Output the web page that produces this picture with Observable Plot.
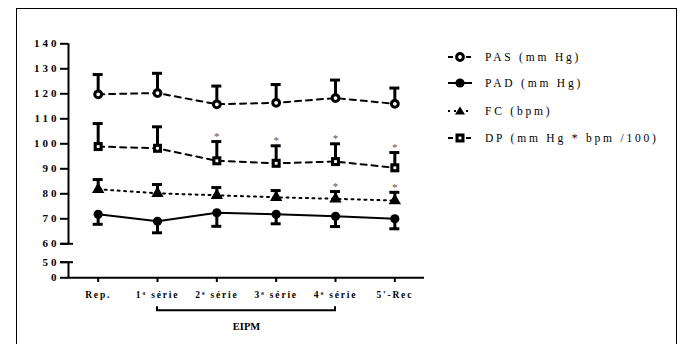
<!DOCTYPE html>
<html>
<head>
<meta charset="utf-8">
<script src="https://cdn.jsdelivr.net/npm/d3@7"></script>
<script src="https://cdn.jsdelivr.net/npm/@observablehq/plot@0.6"></script>
<style>
  html, body { margin: 0; padding: 0; background: #fff; }
  #wrap { position: relative; width: 684px; height: 344px; overflow: hidden; }
  #frame { position: absolute; left: 16px; top: 8px; width: 661px; height: 400px; border: 1px solid #000; box-sizing: border-box; }
  #chart { position: absolute; left: 0; top: 0; }
  #legend { position: absolute; left: 446px; top: 0; font-family: "Liberation Serif", serif; font-size: 11.5px; letter-spacing: 2.8px; color: #000; }
  .row { position: absolute; left: 0; height: 16px; display: flex; align-items: center; white-space: nowrap; }
  .row svg { width: 28px; height: 16px; margin-right: 11px; overflow: visible; }
  svg [aria-label="y-axis tick label"] text { letter-spacing: 3px; }
  svg [aria-label="x-axis tick label"] text { letter-spacing: 1.8px; }
</style>
</head>
<body>
<div id="wrap">
  <div id="frame"></div>
  <div id="chart"></div>
  <div id="legend"></div>
</div>
<script>
// ---- data ----
const categories = ["Rep.", "1ª série", "2ª série", "3ª série", "4ª série", "5'-Rec"];
const pas    = [119.8, 120.3, 115.8, 116.4, 118.3, 116.0];
const pasTop = [127.7, 128.2, 123.1, 123.7, 125.5, 122.3];
const pad    = [71.8, 69.0, 72.4, 71.8, 71.0, 70.0];
const padBot = [67.8, 64.4, 67.0, 68.0, 66.9, 66.0];
const fc     = [81.8, 80.2, 79.4, 78.6, 78.0, 77.3];
const fcTop  = [85.7, 83.7, 82.5, 81.3, 80.9, 80.6];
const dp     = [98.9, 98.2, 93.2, 92.2, 92.9, 90.4];
const dpTop  = [108.1, 106.8, 100.9, 99.2, 100.0, 96.5];
const dpSig  = [false, false, true, true, true, true];
const fcSig  = [false, false, false, false, true, true];
const yTicks = [0, 50, 60, 70, 80, 90, 100, 110, 120, 130, 140];
const bracketFrom = "1ª série", bracketTo = "4ª série", bracketLabel = "EIPM";
const legendLabels = ["PAS (mm Hg)", "PAD (mm Hg)", "FC (bpm)", "DP (mm Hg * bpm /100)"];

// ---- build rows ----
const rows = (vals, ends) => categories.map((c, i) => ({i, v: vals[i], e: ends[i]}));
const PAS = rows(pas, pasTop), PAD = rows(pad, padBot), FC = rows(fc, fcTop), DP = rows(dp, dpTop);
const stars = [
  ...DP.filter((d, i) => dpSig[i]),
  ...FC.filter((d, i) => fcSig[i])
];

const serif = "Liberation Serif, Times New Roman, serif";
const black = "#000";

function errorBars(data) {
  return [
    Plot.ruleX(data, {x: "i", y1: "v", y2: "e", stroke: black, strokeWidth: 3}),
    Plot.ruleY(data, {x1: "i", x2: "i", y: "e", stroke: black, strokeWidth: 3, insetLeft: -5, insetRight: -5})
  ];
}

const ia = categories.indexOf(bracketFrom), ib = categories.indexOf(bracketTo);

const chart = Plot.plot({
  width: 684,
  height: 344,
  marginLeft: 68,
  marginRight: 260,
  marginTop: 43,
  marginBottom: 67,
  style: {fontFamily: serif, fontWeight: "bold", fontSize: "10px", background: "transparent", overflow: "visible"},
  x: {type: "linear", domain: [-0.5, categories.length - 0.5], axis: null, label: null},
  y: {type: "linear", domain: [0, 50, 60, 140], range: [277.3, 261.7, 243.3, 43.3], axis: null, label: null},
  marks: [
    // broken y axis line
    Plot.ruleX([{y1: 60, y2: 140}, {y1: 0, y2: 50}], {x: () => -0.5, y1: "y1", y2: "y2", stroke: black, strokeWidth: 2}),
    Plot.ruleY([50, 60], {x1: () => -0.5, x2: () => -0.5, y: d => d, stroke: black, strokeWidth: 2, insetLeft: -8, insetRight: -5}),
    Plot.axisY(yTicks, {anchor: "left", label: null, tickSize: 8, tickPadding: 1, strokeWidth: 2, fontSize: 11, fontWeight: "bold", fontFamily: serif}),
    // x axis
    Plot.ruleY([0], {stroke: black, strokeWidth: 2}),
    Plot.axisX(d3.range(categories.length), {anchor: "bottom", label: null, tickSize: 5, tickPadding: 9, strokeWidth: 2, tickFormat: i => categories[i], fontSize: 9.5, fontWeight: "bold", fontFamily: serif}),
    // bracket
    (index, scales) => {
      const g = d3.create("svg:g");
      const yy = scales.y(0) + 33;
      g.append("path")
        .attr("d", `M${scales.x(ia)},${yy - 4}V${yy}H${scales.x(ib)}V${yy - 4}`)
        .attr("fill", "none").attr("stroke", black).attr("stroke-width", 2);
      return g.node();
    },
    Plot.text([bracketLabel], {x: () => (ia + ib) / 2, y: () => 0, dy: 49, text: d => d, fontSize: 10.5, fontWeight: "bold", fontFamily: serif, fill: black, style: "letter-spacing:1.5px"}),
    // error bars
    ...errorBars(PAS), ...errorBars(PAD), ...errorBars(FC), ...errorBars(DP),
    // lines
    Plot.line(PAS, {x: "i", y: "v", stroke: black, strokeWidth: 2, strokeDasharray: "6,5"}),
    Plot.line(DP, {x: "i", y: "v", stroke: black, strokeWidth: 2, strokeDasharray: "6,5"}),
    Plot.line(FC, {x: "i", y: "v", stroke: black, strokeWidth: 2, strokeDasharray: "2,4.5"}),
    Plot.line(PAD, {x: "i", y: "v", stroke: black, strokeWidth: 2}),
    // markers
    Plot.dot(PAS, {x: "i", y: "v", r: 3.4, fill: "#fff", stroke: black, strokeWidth: 3}),
    Plot.dot(PAD, {x: "i", y: "v", r: 4.6, fill: black}),
    Plot.dot(FC, {x: "i", y: "v", r: 4.6, symbol: "triangle", fill: black}),
    Plot.dot(DP, {x: "i", y: "v", r: 5.1, symbol: "square", fill: black}),
    Plot.dot(DP, {x: "i", y: "v", r: 1.6, symbol: "square", fill: "#fff"}),
    // significance asterisks
    Plot.text(stars, {x: "i", y: "e", text: () => "*", dy: -5, fontSize: 11, fontWeight: "normal", fill: "#555"})
  ]
});
document.getElementById("chart").appendChild(chart);

// ---- legend ----
const legendStyles = [
  {dash: "5,4", marker: `<circle cx="14" cy="8" r="3.4" fill="#fff" stroke="#000" stroke-width="3"/>`},
  {dash: null, marker: `<circle cx="14" cy="8" r="4.6" fill="#000"/>`},
  {dash: "2,4", marker: `<path d="M14,3.5L19,11.5H9Z" fill="#000"/>`},
  {dash: "5,4", marker: `<rect x="9.5" y="3.5" width="9" height="9" fill="#000"/><rect x="12.6" y="6.6" width="2.8" height="2.8" fill="#fff"/>`}
];
const rowY = [56.7, 83.3, 110.7, 137.7];
const legend = document.getElementById("legend");
legendLabels.forEach((label, k) => {
  const s = legendStyles[k];
  const row = document.createElement("div");
  row.className = "row";
  row.style.top = (rowY[k] - 8) + "px";
  row.innerHTML = `<svg viewBox="0 0 28 16"><line x1="2" y1="8" x2="26" y2="8" stroke="#000" stroke-width="2" ${s.dash ? `stroke-dasharray="${s.dash}"` : ""}/>${s.marker}</svg><span>${label}</span>`;
  legend.appendChild(row);
});
</script>
</body>
</html>
